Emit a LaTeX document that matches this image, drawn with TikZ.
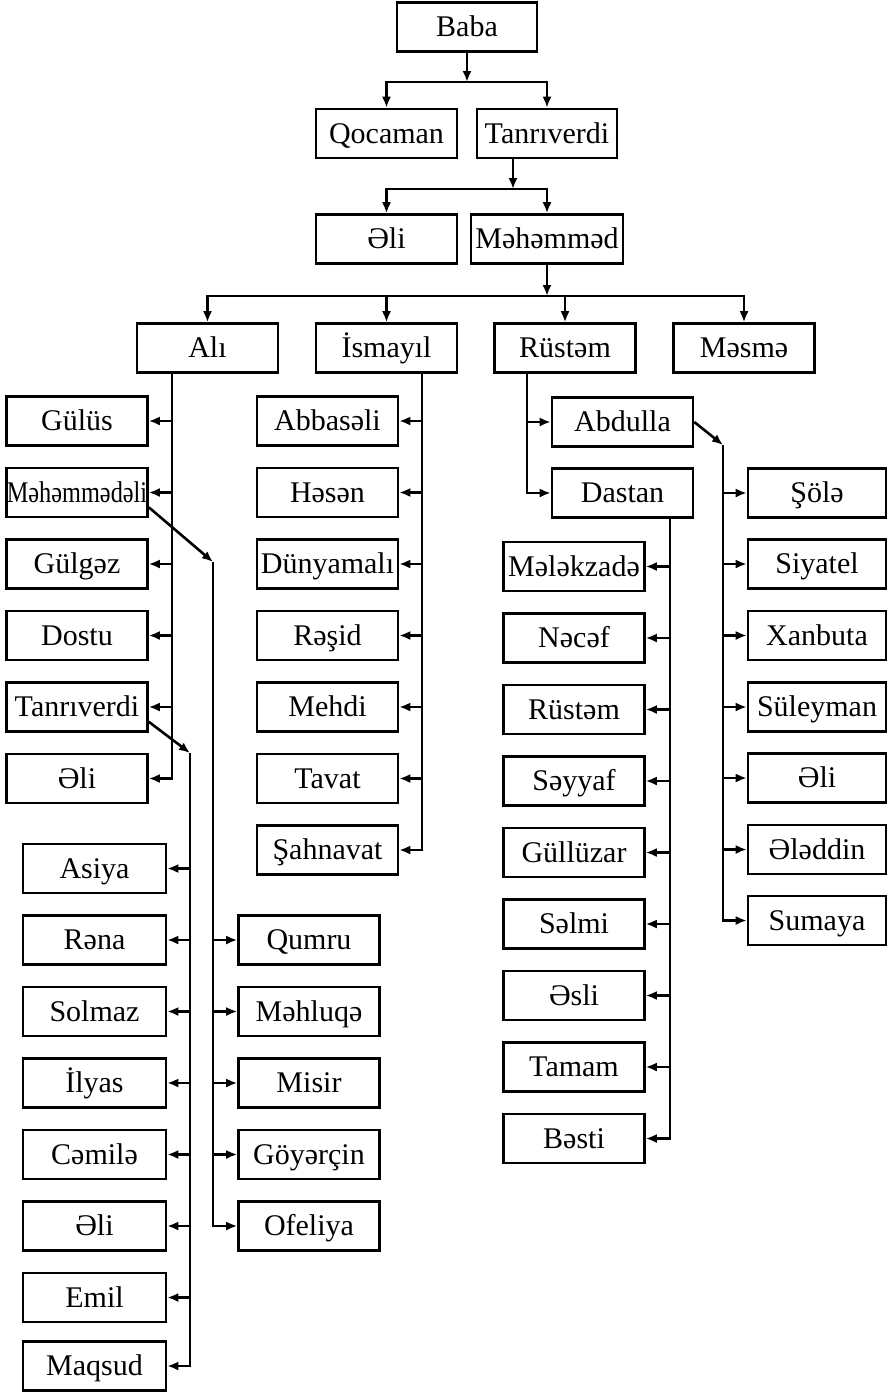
\documentclass[tikz,border=0pt]{standalone}
\usepackage{fontspec}
\setmainfont{Liberation Serif}
\usetikzlibrary{arrows.meta}
\begin{document}
\begin{tikzpicture}[x=1pt,y=-1pt,
  box/.style={draw,line width=2.6pt,minimum width=141pt,minimum height=49pt,inner sep=0pt,text height=27pt,text depth=8pt,font=\fontsize{30}{32}\selectfont},
  ln/.style={line width=2.6pt},
  arr/.style={line width=2.6pt,-{Latex[length=11pt,width=9pt]}}]
\useasboundingbox (0,0) rectangle (888,1392);
% top levels
\node[box,minimum width=140pt] (baba) at (467,27) {Baba};
\node[box] (qoc) at (386.5,133.5) {Qocaman};
\node[box,minimum width=140pt] (tan) at (547,133.5) {Tanrıverdi};
\node[box] (eli) at (386.5,239) {Əli};
\node[box,minimum width=152pt] (meh) at (547,239) {Məhəmməd};
\node[box] (ali) at (207.5,348) {Alı};
\node[box] (ism) at (386.5,348) {İsmayıl};
\node[box] (rus) at (565,348) {Rüstəm};
\node[box] (mes) at (744,348) {Məsmə};
\coordinate (j1) at (467,82);
\coordinate (j2) at (513,189);
\coordinate (j3) at (547,296);
\draw[arr] (baba.south) -- (j1);
\draw[arr] (j1) -| (qoc.north);
\draw[arr] (j1) -| (tan.north);
\draw[arr] ([xshift=-34pt]tan.south) -- (j2);
\draw[arr] (j2) -| (eli.north);
\draw[arr] (j2) -| (meh.north);
\draw[arr] (meh.south) -- (j3);
\draw[arr] (j3) -| (ali.north);
\draw[arr] (j3) -| (ism.north);
\draw[arr] (j3) -| (rus.north);
\draw[arr] (j3) -| (mes.north);
% Ali children
\node[box] (a1) at (77,421) {Gülüs};
\node[box] (a2) at (77,492.5) {\scalebox{0.81}[1]{Məhəmmədəli}};
\node[box] (a3) at (77,564) {Gülgəz};
\node[box] (a4) at (77,635.5) {Dostu};
\node[box] (a5) at (77,707) {Tanrıverdi};
\node[box] (a6) at (77,778.5) {Əli};
\coordinate (aT) at (172,0);
\draw[arr] (aT |- ali.south) |- (a6.east);
\foreach \n in {a1,a2,a3,a4,a5} \draw[arr] (aT |- \n.east) -- (\n.east);
% Ismayil children
\node[box] (i1) at (327.5,421) {Abbasəli};
\node[box] (i2) at (327.5,492.5) {Həsən};
\node[box] (i3) at (327.5,564) {Dünyamalı};
\node[box] (i4) at (327.5,635.5) {Rəşid};
\node[box] (i5) at (327.5,707) {Mehdi};
\node[box] (i6) at (327.5,778.5) {Tavat};
\node[box] (i7) at (327.5,850) {Şahnavat};
\coordinate (iT) at (422,0);
\draw[arr] (iT |- ism.south) |- (i7.east);
\foreach \n in {i1,i2,i3,i4,i5,i6} \draw[arr] (iT |- \n.east) -- (\n.east);
% Rustam children
\node[box] (abd) at (622.5,422) {Abdulla};
\node[box] (das) at (622.5,493) {Dastan};
\coordinate (rT) at (527,0);
\draw[arr] (rT |- rus.south) |- (das.west);
\draw[arr] (rT |- abd.west) -- (abd.west);
% Abdulla children
\node[box,minimum width=138pt] (s1) at (817,493) {Şölə};
\node[box,minimum width=138pt] (s2) at (817,564) {Siyatel};
\node[box,minimum width=138pt] (s3) at (817,635.5) {Xanbuta};
\node[box,minimum width=138pt] (s4) at (817,707) {Süleyman};
\node[box,minimum width=138pt] (s5) at (817,778) {Əli};
\node[box,minimum width=138pt] (s6) at (817,849.5) {Ələddin};
\node[box,minimum width=138pt] (s7) at (817,920.5) {Sumaya};
\coordinate (bT) at (723,445);
\draw[arr] (abd.east) -- (bT);
\draw[arr] (bT) |- (s7.west);
\foreach \n in {s1,s2,s3,s4,s5,s6} \draw[arr] (bT |- \n.west) -- (\n.west);
% Dastan children
\node[box] (d1) at (574,566.5) {Mələkzadə};
\node[box] (d2) at (574,638) {Nəcəf};
\node[box] (d3) at (574,709.5) {Rüstəm};
\node[box] (d4) at (574,781) {Səyyaf};
\node[box] (d5) at (574,852.5) {Güllüzar};
\node[box] (d6) at (574,924) {Səlmi};
\node[box] (d7) at (574,995.5) {Əsli};
\node[box] (d8) at (574,1067) {Tamam};
\node[box] (d9) at (574,1138.5) {Bəsti};
\coordinate (dT) at (670,0);
\draw[arr] (dT |- das.south) |- (d9.east);
\foreach \n in {d1,d2,d3,d4,d5,d6,d7,d8} \draw[arr] (dT |- \n.east) -- (\n.east);
% Mahammadali children
\node[box] (q1) at (309,940) {Qumru};
\node[box] (q2) at (309,1011.5) {Məhluqə};
\node[box] (q3) at (309,1083) {Misir};
\node[box] (q4) at (309,1154.5) {Göyərçin};
\node[box] (q5) at (309,1226) {Ofeliya};
\coordinate (mT) at (213,562);
\draw[arr] ([yshift=11pt]a2.south east) -- (mT);
\draw[arr] (mT) |- (q5.west);
\foreach \n in {q1,q2,q3,q4} \draw[arr] (mT |- \n.west) -- (\n.west);
% Tanriverdi children
\node[box,minimum width=143pt] (t1) at (94.5,868.5) {Asiya};
\node[box,minimum width=143pt] (t2) at (94.5,940) {Rəna};
\node[box,minimum width=143pt] (t3) at (94.5,1011.5) {Solmaz};
\node[box,minimum width=143pt] (t4) at (94.5,1083) {İlyas};
\node[box,minimum width=143pt] (t5) at (94.5,1154.5) {Cəmilə};
\node[box,minimum width=143pt] (t6) at (94.5,1226) {Əli};
\node[box,minimum width=143pt] (t7) at (94.5,1297.5) {Emil};
\node[box,minimum width=143pt] (t8) at (94.5,1366) {Maqsud};
\coordinate (tT) at (190,753);
\draw[arr] ([yshift=11pt]a5.south east) -- (tT);
\draw[arr] (tT) |- (t8.east);
\foreach \n in {t1,t2,t3,t4,t5,t6,t7} \draw[arr] (tT |- \n.east) -- (\n.east);
\end{tikzpicture}
\end{document}
